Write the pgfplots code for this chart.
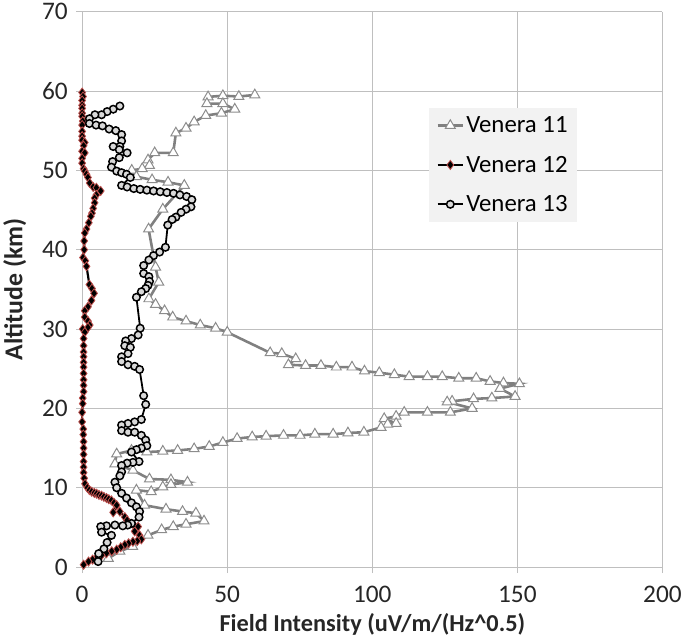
\documentclass[border=0pt]{standalone}
\usepackage{pgfplots}
\pgfplotsset{compat=1.18}
\usepackage{fontspec}
\setmainfont{Carlito}
\definecolor{gridgray}{HTML}{BFBFBF}
\definecolor{v11}{HTML}{808080}
\definecolor{v11edge}{HTML}{8C8C8C}
\definecolor{v12edge}{HTML}{C0504D}
\definecolor{v13fill}{HTML}{D9D9D9}
\definecolor{legfill}{HTML}{F2F2F2}
\begin{document}
\begin{tikzpicture}
\begin{axis}[
  scale only axis, width=585pt, height=560pt,
  xmin=0, xmax=200, ymin=0, ymax=70,
  xtick={0,50,...,200}, ytick={0,10,...,70},
  grid=major, grid style={gridgray, line width=0.9pt},
  axis line style={gridgray, line width=0.9pt},
  axis x line*=bottom, axis y line*=left,
  tick style={gridgray, line width=0.9pt},
  tick align=outside, major tick length=6pt,
  /pgf/number format/assume math mode=true,
  tick label style={font=\fontsize{25.5}{28}\selectfont, text=black!85},
  xticklabel style={yshift=-10pt},
  yticklabel style={xshift=-5pt},
  xlabel={\bfseries Field Intensity (uV/m/(Hz\^{}0.5)},
  ylabel={\bfseries Altitude (km)},
  xlabel style={font=\fontsize{24.5}{27}\selectfont, text=black!85,
    at={(axis description cs:0.5,0)}, anchor=base, inner sep=0pt, yshift=-65pt},
  ylabel style={font=\fontsize{26}{29}\selectfont, text=black!85, yshift=9pt},
  legend style={at={(0.598,0.827)}, anchor=north west, fill=legfill, draw=none,
    font=\fontsize{25}{28}\selectfont, row sep=18pt, inner sep=7pt,
    legend cell align=left},
  legend image code/.code={
    \draw[#1, mark repeat=2, mark phase=2] plot coordinates {(0cm,0cm) (0.45cm,0cm) (0.9cm,0cm)};},
  clip=false,
]
% Venera 11
\addplot[color=v11, line width=2.6pt, mark=triangle*,
  mark options={solid, fill=white, draw=v11edge, line width=1pt, scale=1}, mark size=5.8pt]
coordinates {
(59.5,59.5)(54,59.3)(48.5,59.4)(43.4,59.25)(43,58.4)(48.5,58.4)(52.6,57.7)(48,57.2)
(42.6,56.9)(38.6,56.1)(35.8,55.3)(32.3,54.7)(31.4,52.2)(25,52.2)(22.7,51.3)(23.2,50.6)
(20.7,50.2)(17.1,50.0)(18.7,49.2)(24.1,48.8)(29.6,48.5)(35.2,48.1)(27.8,45.1)(22.9,42.6)
(25.3,37.8)(26.4,35.9)(23,33.8)(25.3,33.1)(28.4,32.3)(31.2,31.5)(35.8,31.0)(40.7,30.5)
(46,30.1)(50,29.6)(64.8,27.0)(68.8,26.9)(73.6,26.25)(71.1,25.5)(77,25.4)(82.3,25.4)
(87.6,25.2)(93,25.2)(97.3,24.7)(102.4,24.5)(107.6,24.25)(112.7,24.0)(119,24.0)(124.1,24.0)
(129.8,23.8)(135.8,23.8)(140.6,23.4)(145.2,23.2)(150.7,23.1)(144,22.5)(149.2,21.5)
(141.2,21.3)(134.9,21.2)(127.5,20.9)(125.8,20.8)(134.4,20.0)(126.9,19.5)(119,19.5)
(111,19.5)(108.2,19.0)(104.1,18.7)(108.2,18.1)(105.3,18.0)(103,17.6)(97.1,17.0)(91.6,16.9)
(86.5,16.75)(80.2,16.75)(75.1,16.6)(69.4,16.6)(63.4,16.5)(58.6,16.4)(53.4,16.2)(48.5,15.7)
(43.8,15.2)(38.6,14.9)(32.9,14.7)(27.8,14.6)(22.3,14.5)(17,14.7)(11.9,14.25)(11.3,13.0)
(17.5,12.2)(23.2,11.1)(30.6,11.0)(36.3,10.7)(30.6,10.4)(27.8,10.1)(23.8,9.5)(18.7,9.7)
(21.5,7.8)(28.9,7.3)(34.6,7.0)(39.2,6.8)(42,5.8)(35.8,5.4)(31.4,5.1)(27.4,4.7)(22.7,4.0)
(17.4,2.6)(13,2.0)(9,1.1)
};
\addlegendentry{Venera 11}
% Venera 12
\addplot[color=black, line width=2.2pt, mark=diamond*,
  mark options={solid, fill=black, draw=v12edge, line width=0.8pt}, mark size=4.6pt]
coordinates {
(0,59.8)(0.3,59.3)(0,58.8)(0,58.2)(0,57.8)(0,57.2)(0,56.8)(0.2,56.2)(0,55.7)(0,54.9)
(0,54.3)(0,53.8)(0.9,53.5)(0.5,53.1)(0,52.4)(0.9,52.2)(0,51.5)(0,50.9)(0.5,50.2)(0.9,49.9)
(1.5,49.5)(2,49.1)(2.6,48.4)(3.8,47.9)(4.9,47.8)(6.4,47.4)(4.9,46.9)(4.3,46.5)(4.3,45.9)
(3.8,45.2)(3.4,44.6)(3.0,44.2)(2.3,43.4)(1.5,42.6)(0.9,42.1)(0.7,41.1)(0.7,40.0)(0.3,39.0)
(1.1,38.6)(1.5,37.9)(2.5,35.6)(3.4,35.1)(4.1,34.5)(3.2,33.6)(2.0,32.8)(0.9,32.3)(0.9,31.5)
(2.0,31.0)(2.6,30.5)(2.0,30.2)(0.2,30.0)(0.9,29.6)(0.5,28.8)(0.5,27.9)(0.5,27.1)(0.5,26.5)
(0.5,25.8)(0.5,25.2)(0.5,24.4)(0.5,23.6)(0.5,22.9)(0.5,22.1)(0.2,21.3)(0.2,20.6)(0,19.5)
(0,18.3)(0.4,17.4)(0.4,16.7)(0.5,15.8)(0.5,15.0)(0.5,14.2)(0.5,13.3)(0.5,12.6)(0.5,11.9)
(0.7,11.2)(1,10.5)(1.8,10.0)(2.5,9.7)(3.3,9.5)(4.2,9.35)(5,9.25)(5.8,9.1)(6.7,9.0)(7.5,8.85)
(8.4,8.7)(9.2,8.55)(10.1,8.4)(11,8.1)(11.9,7.8)(10.7,6.9)(13,7.0)(14.7,6.3)(15.5,5.9)
(16.4,5.5)(17.8,5.3)(19.3,5.1)(18.1,4.5)(19.8,4.0)(20.4,3.5)(19,3.3)(17.5,3.2)(16,3.0)
(14.7,2.8)(13.3,2.5)(11.9,2.2)(10.2,2.0)(8.4,1.75)(6.7,1.5)(5,1.2)(3.6,0.95)(2.2,0.7)(0.5,0.3)
};
\addlegendentry{Venera 12}
% Venera 13
\addplot[color=black, line width=1.8pt, mark=*,
  mark options={solid, fill=v13fill, draw=black, line width=1.5pt}, mark size=3.8pt]
coordinates {
(13,58.1)(10.7,57.7)(8.6,57.4)(6.7,57.0)(4.4,57.0)(2.5,56.5)(2.5,55.9)(4.8,55.7)(7,55.6)
(9.3,55.2)(11.6,55.0)(13.6,54.5)(13.6,53.7)(13,53.0)(10.7,53.0)(12.8,52.6)(15.5,52.2)
(12.8,51.6)(10.5,51.1)(10.1,50.4)(11.9,49.9)(13.6,49.7)(15.3,49.5)(16.6,49.1)(13.6,48.1)
(15.5,47.9)(17.8,47.7)(20,47.6)(22.3,47.5)(24.6,47.4)(26.9,47.3)(29.2,47.2)(31.5,47.1)
(33.7,46.9)(36,46.7)(37.8,46.3)(37.5,45.4)(35.8,45.1)(34.1,44.7)(32.3,44.1)(31,43.8)
(29.5,43.1)(28.7,40.3)(26.7,39.7)(24.6,39.25)(23,38.7)(21.2,38)(21.2,37.0)(23,36.6)
(23.2,36.0)(22.7,35.5)(21.9,35.1)(20.4,34.7)(18.7,34.0)(20,30.1)(19.3,29.25)(17,28.8)
(15,28.5)(14.7,27.9)(16.6,27.7)(15.8,26.9)(13.6,26.5)(13.6,25.9)(15.8,25.5)(18.1,25.3)
(19.8,24.9)(21.2,21.6)(21.9,20.5)(20.4,18.6)(18.1,18.3)(15.8,18.1)(13.6,17.9)(13.6,17.2)
(15.8,17.0)(18.1,17.0)(20.4,16.6)(21.9,16.0)(22.3,15.3)(20.4,15.0)(18.7,14.8)(17,14.5)
(19.6,13.3)(17.5,13.2)(15.5,13.1)(13.6,12.8)(13.6,12.0)(13,11.5)(11.3,10.7)(11.9,10.0)
(13.6,9.3)(15.3,8.7)(17,8.1)(18.7,7.6)(19.8,7.0)(19.6,6.3)(17,5.5)(15.7,5.3)(14.0,5.2)
(11.3,5.3)(8.4,5.2)(6.4,5.1)(6.7,4.4)(10.1,4.0)(8.6,3.1)(7.5,2.3)(5.7,1.7)(5.5,0.7)
};
\addlegendentry{Venera 13}
\end{axis}
\path (current axis.south west) ++(-82pt,-72pt) coordinate (BL);
\path (current axis.north east) ++(18pt,9pt) coordinate (TR);
\path[use as bounding box] (BL) rectangle (TR);
\end{tikzpicture}
\end{document}
